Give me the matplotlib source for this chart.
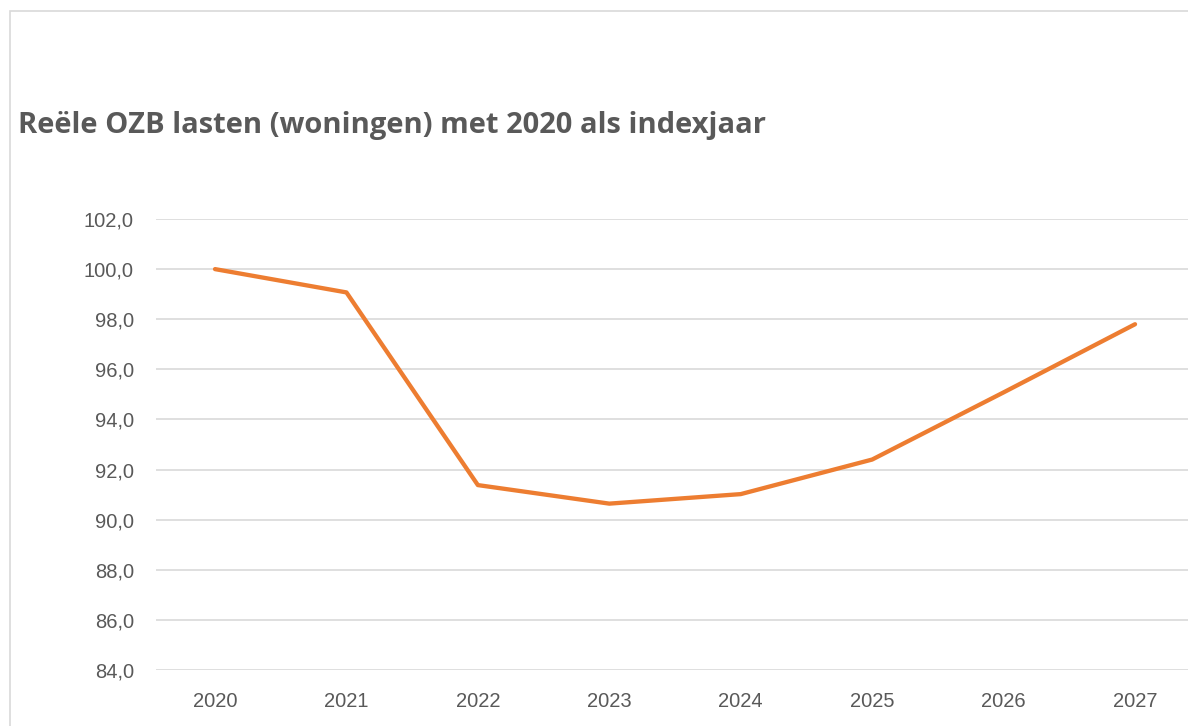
import matplotlib
matplotlib.use("Agg")
import matplotlib.pyplot as plt
from matplotlib.patches import Rectangle
from matplotlib.ticker import FuncFormatter

# Reading of the reference chart
years = ["2020", "2021", "2022", "2023", "2024", "2025", "2026", "2027"]
index_values = [100.0, 99.07, 91.38, 90.64, 91.02, 92.4, 95.08, 97.8]
y_ticks = [84, 86, 88, 90, 92, 94, 96, 98, 100, 102]

title = "Reële OZB lasten (woningen) met 2020 als indexjaar"

text_grey = "#595959"
grid_grey = "#D9D9D9"
line_orange = "#ED7D31"

W, H = 1188, 726
fig = plt.figure(figsize=(W / 100, H / 100), dpi=100)
fig.patch.set_facecolor("white")

# chart-area border (runs off the right and bottom edge of the crop)
fig.patches.append(Rectangle((10 / W, -0.1), 1.2, 1 - 11 / H + 0.1,
                             transform=fig.transFigure, fill=False,
                             edgecolor=grid_grey, linewidth=1.2))

# plot area: 102 gridline at y=219, 84 at y=670, starts at x=156
ax = fig.add_axes([156 / W, 1 - 670 / H, (W - 156) / W, (670 - 219) / H])
x = list(range(len(years)))
ax.plot(x, index_values, color=line_orange, linewidth=3.1,
        solid_joinstyle="round", solid_capstyle="round", zorder=3)

ax.set_ylim(84, 102)
ax.set_yticks(y_ticks)
ax.yaxis.set_major_formatter(FuncFormatter(lambda v, p: f"{v:.1f}".replace(".", ",")))
ax.set_xlim(-0.449, 7.403)
ax.set_xticks(x)
ax.set_xticklabels(years)

ax.grid(axis="y", color=grid_grey, linewidth=1.2)
ax.set_axisbelow(True)
for s in ax.spines.values():
    s.set_visible(False)
ax.tick_params(axis="both", length=0, labelcolor=text_grey, labelsize=14.5)
ax.tick_params(axis="y", pad=16)
ax.tick_params(axis="x", pad=16)
for lbl in ax.get_xticklabels() + ax.get_yticklabels():
    lbl.set_fontfamily("Liberation Sans")

fig.text(18 / W, 1 - 125 / H, title, ha="left", va="center",
         fontsize=21, fontweight="bold", color=text_grey, family="Open Sans")

fig.savefig("out.png", dpi=100, facecolor="white")
